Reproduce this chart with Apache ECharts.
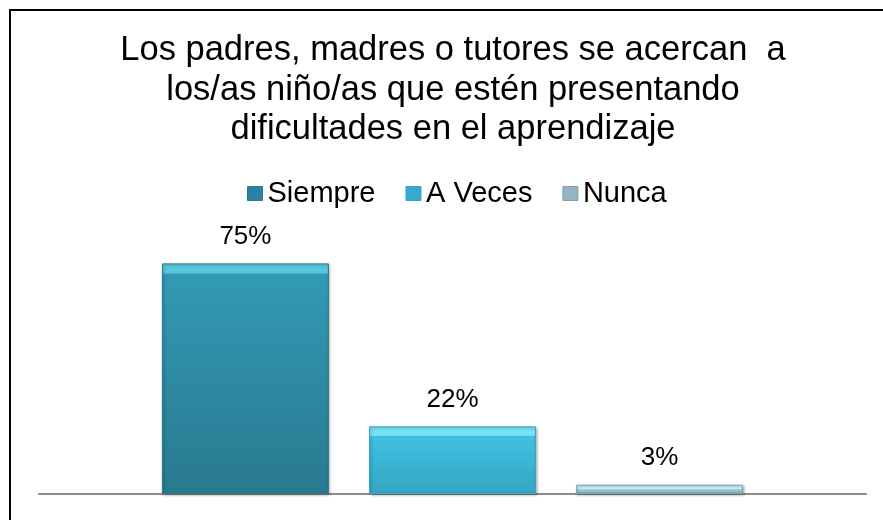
<!DOCTYPE html>
<html>
<head>
<meta charset="utf-8">
<script src="https://cdn.jsdelivr.net/npm/echarts@6/dist/echarts.min.js"></script>
<style>
  html, body { margin: 0; padding: 0; background: #fff; }
  #chart { width: 883px; height: 520px; }
</style>
</head>
<body>
<div id="chart"></div>
<script>
// datos
const titleLines = [
    'Los padres, madres o tutores se acercan  a',
    'los/as niño/as que estén presentando',
    'dificultades en el aprendizaje'
];
const seriesNames = ['Siempre', 'A Veces', 'Nunca'];
const seriesValues = [75, 22, 3];
const category = [''];

// colores: franja superior (bisel), cuerpo arriba, cuerpo abajo, leyenda
const bandColors = ['#58c6df', '#78e3f6', '#c8f3fb'];
const bodyTop = ['#3299b5', '#41c0e1', '#a4d6e3'];
const bodyBottom = ['#297a8f', '#35a6c5', '#7fa1ad'];
const legendColors = ['#2b82a0', '#37a9cf', '#93b4c2'];

const gridTop = 248, gridBottom = 26, yMax = 80;
const pxPerUnit = (520 - gridTop - gridBottom) / yMax;

const chart = echarts.init(document.getElementById('chart'));

const series = seriesNames.map((name, i) => {
    const h = seriesValues[i] * pxPerUnit;
    const f = Math.min(9 / h, 0.45);
    return {
        name: name,
        type: 'bar',
        data: [seriesValues[i]],
        barWidth: 167,
        barGap: '24%',
        itemStyle: {
            color: new echarts.graphic.LinearGradient(0, 0, 0, 1, [
                { offset: 0, color: bandColors[i] },
                { offset: f, color: bandColors[i] },
                { offset: Math.min(f + 0.01, 1), color: bodyTop[i] },
                { offset: 1, color: bodyBottom[i] }
            ]),
            borderColor: bodyBottom[i],
            borderWidth: 1,
            shadowColor: 'rgba(0,0,0,0.35)',
            shadowBlur: 3,
            shadowOffsetX: 1,
            shadowOffsetY: 1
        },
        label: {
            show: true,
            position: 'top',
            distance: 14,
            formatter: p => p.value + '%',
            fontFamily: 'Liberation Sans, Arial',
            fontSize: 26,
            color: '#000'
        }
    };
});

const option = {
    animation: false,
    title: {
        text: titleLines.join('\n'),
        left: 453,
        top: 31,
        padding: 0,
        textAlign: 'center',
        textStyle: {
            fontFamily: 'Liberation Sans, Arial',
            fontSize: 34.5,
            fontWeight: 'normal',
            lineHeight: 39.5,
            color: '#000'
        }
    },
    legend: {
        left: 247,
        top: 179,
        padding: 0,
        itemWidth: 15,
        itemHeight: 14,
        itemGap: 30,
        icon: 'rect',
        data: seriesNames.map((n, i) => ({
            name: n,
            itemStyle: { color: legendColors[i], borderColor: bodyBottom[i], borderWidth: 1 }
        })),
        textStyle: {
            fontFamily: 'Liberation Sans, Arial',
            fontSize: 29,
            color: '#000'
        }
    },
    grid: { left: 39, right: 17, top: gridTop, bottom: gridBottom },
    xAxis: {
        type: 'category',
        data: category,
        axisLine: { show: true, lineStyle: { color: '#8c8c8c', width: 2 } },
        axisTick: { show: false },
        axisLabel: { show: false }
    },
    yAxis: {
        type: 'value',
        min: 0,
        max: yMax,
        show: false,
        splitLine: { show: false }
    },
    graphic: [{
        type: 'rect',
        shape: { x: 10, y: 10, width: 1000, height: 1000 },
        style: { fill: 'none', stroke: '#000', lineWidth: 2 },
        silent: true
    }],
    series: series
};

chart.setOption(option);
</script>
</body>
</html>
